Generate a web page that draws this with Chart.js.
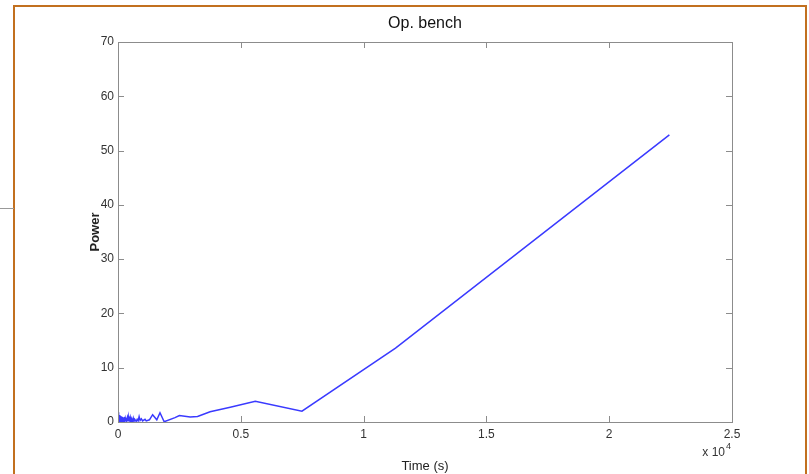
<!DOCTYPE html>
<html>
<head>
<meta charset="utf-8">
<script src="https://cdn.jsdelivr.net/npm/chart.js@4"></script>
<style>
  body { margin: 0; background: #fff; }
  #wrap { position: relative; width: 809px; height: 474px; }
  #frame { position: absolute; left: 13px; top: 5px; width: 794px; height: 470px; border: 2px solid #c2701f; border-bottom: none; box-sizing: border-box; }
  #stub { position: absolute; left: 0; top: 208px; width: 14px; height: 1px; background: #999; }
  canvas { position: absolute; left: 0; top: 0; }
</style>
</head>
<body>
<div id="wrap">
  <canvas id="grafico" width="809" height="474"></canvas>
  <div id="frame"></div>
  <div id="stub"></div>
</div>
<script>
// data
const tiempo = [0, 10, 20, 30, 40, 50, 60, 70, 80, 90, 100, 110, 120, 130, 140, 150, 160, 170, 180, 190, 200,
  215, 230, 245, 260, 275, 290, 305, 320, 335, 350, 365, 380, 400, 420, 440, 460, 480, 500, 530, 560, 590, 620,
  650, 680, 710, 740, 780, 820, 860, 900, 950, 1000,
  1100, 1150, 1280, 1410, 1580, 1710, 1880, 2320, 2500, 2940, 3240, 3750, 4570, 5590, 7490, 11300, 22450];
const potencia = [1.8, 0.2, 1.6, 0.1, 1.4, 0.3, 1.2, 0.1, 1.3, 0.2, 1.0, 0.1, 1.1, 0.3, 0.9, 0.1, 1.0, 0.2, 0.8, 0.1, 0.9,
  0.2, 0.8, 0.1, 0.9, 0.3, 0.7, 0.1, 0.8, 0.2, 0.6, 0.1, 0.7, 0.2, 0.9, 0.1, 0.6, 0.3, 0.8, 0.1, 0.5, 0.2, 0.7,
  0.1, 0.5, 0.3, 0.1, 0.5, 0.2, 1.0, 0.3, 0.6, 0.2,
  0.5, 0.2, 0.4, 1.35, 0.4, 1.7, 0.05, 0.8, 1.2, 0.9, 1.0, 1.9, 2.7, 3.8, 2.0, 13.6, 52.9];
const xTicks = [0, 5000, 10000, 15000, 20000, 25000];
const yTicks = [0, 10, 20, 30, 40, 50, 60, 70];

const puntos = tiempo.map((t, i) => ({x: t, y: potencia[i]}));
const fuente = '"Liberation Sans Narrow", "Liberation Sans", Arial, sans-serif';

// box + inward ticks + title + exponent, MATLAB style
const cajaPlugin = {
  id: 'caja',
  afterDraw(chart) {
    const c = chart.ctx, a = chart.chartArea;
    const sx = chart.scales.x, sy = chart.scales.y;
    c.save();
    c.strokeStyle = '#8c8c8c';
    c.lineWidth = 1;
    c.strokeRect(a.left + 0.5, a.top + 0.5, a.right - a.left, a.bottom - a.top);
    c.beginPath();
    xTicks.forEach(v => {
      const px = Math.round(sx.getPixelForValue(v)) + 0.5;
      c.moveTo(px, a.bottom); c.lineTo(px, a.bottom - 6);
      c.moveTo(px, a.top); c.lineTo(px, a.top + 6);
    });
    yTicks.forEach(v => {
      const py = Math.round(sy.getPixelForValue(v)) + 0.5;
      c.moveTo(a.left, py); c.lineTo(a.left + 6, py);
      c.moveTo(a.right, py); c.lineTo(a.right - 6, py);
    });
    c.stroke();

    c.fillStyle = '#111';
    c.font = '16px ' + fuente;
    c.textAlign = 'center';
    c.textBaseline = 'middle';
    c.fillText('Op. bench', (a.left + a.right) / 2, 24);

    c.fillStyle = '#333';
    c.font = '12px ' + fuente;
    c.textAlign = 'right';
    c.fillText('x 10', 725, 453);
    c.font = '9px ' + fuente;
    c.textAlign = 'left';
    c.fillText('4', 726, 447);
    c.restore();
  }
};

new Chart(document.getElementById('grafico').getContext('2d'), {
  type: 'line',
  data: {
    datasets: [{
      data: puntos,
      borderColor: '#3a3aff',
      borderWidth: 1.5,
      pointRadius: 0,
      tension: 0,
      fill: false
    }]
  },
  options: {
    responsive: false,
    animation: false,
    layout: { padding: { top: 42, right: 77, bottom: 0, left: 0 } },
    plugins: {
      legend: { display: false },
      tooltip: { enabled: false },
      title: { display: false }
    },
    scales: {
      x: {
        type: 'linear',
        min: 0, max: 25000,
        afterFit: s => { s.height = 52; },
        afterBuildTicks: s => { s.ticks = xTicks.map(v => ({value: v})); },
        grid: { display: false, drawTicks: false },
        border: { display: false },
        ticks: {
          color: '#333',
          padding: 5,
          maxRotation: 0,
          font: { family: fuente, size: 12 },
          callback: v => String(v / 10000)
        },
        title: {
          display: true,
          text: 'Time (s)',
          color: '#222',
          padding: { top: 9, bottom: 0 },
          font: { family: fuente, size: 13 }
        }
      },
      y: {
        min: 0, max: 70,
        afterFit: s => { s.width = 118; },
        afterBuildTicks: s => { s.ticks = yTicks.map(v => ({value: v})); },
        grid: { display: false, drawTicks: false },
        border: { display: false },
        ticks: {
          color: '#333',
          padding: 4,
          font: { family: fuente, size: 12 }
        },
        title: {
          display: true,
          text: 'Power',
          color: '#222',
          padding: { top: 88, bottom: 0 },
          font: { family: fuente, size: 13, weight: 'bold' }
        }
      }
    }
  },
  plugins: [cajaPlugin]
});
</script>
</body>
</html>
